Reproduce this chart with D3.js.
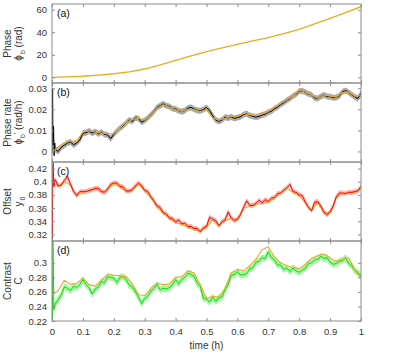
<!DOCTYPE html>
<html><head><meta charset="utf-8">
<script src="https://cdn.jsdelivr.net/npm/d3@7"></script>
<style>body{margin:0;background:#fff} text{font-family:"Liberation Sans",Arial,sans-serif}</style>
</head><body><svg id="chart" width="399" height="361"></svg>
<script>
// ---------- data ----------
const phaseTime = [0,0.05,0.1,0.15,0.2,0.25,0.3,0.35,0.4,0.45,0.5,0.55,0.6,0.65,0.7,0.75,0.8,0.85,0.9,0.95,1.0];
const phaseValues = [0,0.4,1.0,2.0,3.2,4.8,7.4,11.0,15.0,19.0,22.9,26.2,29.3,32.3,35.2,38.8,42.6,47.3,52.3,57.4,62.6];

const fineTime = d3.range(101).map(i => i / 100);
const coarseTime = d3.range(51).map(i => i / 50);

const rateSpikeTime = [0.002,0.003,0.005,0.007,0.009];
const rateSpikeValues = [0.030,0.003,0.012,-0.002,0.004];
const rateMeasured = [0.000,0.001,0.000,0.002,0.003,0.004,0.0045,0.0032,0.004,0.0055,
  0.0086,0.0089,0.0097,0.0087,0.0094,0.0084,0.0091,0.0081,0.0079,0.0061,
  0.0081,0.0097,0.0111,0.0121,0.0136,0.0149,0.0143,0.0159,0.0156,0.0139,
  0.0147,0.0159,0.0173,0.0189,0.0209,0.0217,0.0226,0.0217,0.0213,0.0204,
  0.0201,0.0193,0.0189,0.0194,0.0206,0.0209,0.0201,0.0195,0.0193,0.0199,
  0.0209,0.0194,0.0169,0.0149,0.0143,0.0149,0.0163,0.0159,0.0164,0.0157,
  0.0161,0.0165,0.0175,0.0179,0.0171,0.0167,0.0163,0.0167,0.0173,0.0177,
  0.0186,0.0191,0.0203,0.0211,0.0223,0.0231,0.0243,0.0251,0.0263,0.0272,
  0.0286,0.0287,0.0281,0.0273,0.0269,0.0254,0.0251,0.0261,0.0268,0.0261,
  0.0260,0.0255,0.0256,0.0264,0.0283,0.0289,0.0281,0.0269,0.0259,0.0251,0.0276];
const rateModel = [0.0000,0.0020,0.0040,0.0050,0.0050,0.0092,0.0098,0.0092,0.0088,0.0083,
  0.0085,0.0112,0.0138,0.0152,0.0158,0.0150,0.0170,0.0205,0.0222,0.0210,
  0.0198,0.0190,0.0200,0.0198,0.0190,0.0196,0.0160,0.0148,0.0158,0.0165,
  0.0168,0.0180,0.0175,0.0170,0.0178,0.0190,0.0210,0.0228,0.0245,0.0262,
  0.0290,0.0282,0.0268,0.0252,0.0268,0.0262,0.0258,0.0280,0.0283,0.0262,0.0266];
const rateError = 0.0012;

const offsetSpikeTime = [0.001,0.003,0.006];
const offsetSpikeValues = [0.30,0.44,0.392];
const offsetMeasured = [0.400,0.403,0.394,0.395,0.402,0.408,0.396,0.385,0.379,0.385,
  0.385,0.385,0.387,0.388,0.390,0.390,0.385,0.384,0.389,0.396,
  0.398,0.398,0.393,0.392,0.386,0.386,0.388,0.394,0.398,0.394,
  0.387,0.385,0.377,0.371,0.363,0.361,0.353,0.351,0.345,0.344,
  0.339,0.342,0.336,0.337,0.332,0.332,0.329,0.329,0.324,0.330,
  0.332,0.346,0.343,0.341,0.333,0.339,0.342,0.354,0.345,0.341,
  0.343,0.350,0.361,0.371,0.364,0.364,0.367,0.372,0.368,0.373,
  0.370,0.375,0.376,0.382,0.383,0.387,0.391,0.396,0.385,0.384,
  0.380,0.379,0.369,0.361,0.356,0.369,0.370,0.363,0.354,0.350,
  0.354,0.363,0.377,0.383,0.383,0.382,0.384,0.384,0.385,0.386,0.393];
const offsetModel = [0.398,0.393,0.400,0.395,0.378,0.384,0.386,0.389,0.384,0.388,
  0.397,0.392,0.385,0.387,0.397,0.386,0.376,0.362,0.352,0.344,
  0.338,0.335,0.331,0.328,0.324,0.331,0.342,0.333,0.341,0.344,
  0.342,0.360,0.363,0.366,0.367,0.369,0.375,0.382,0.390,0.384,
  0.379,0.368,0.356,0.369,0.353,0.353,0.376,0.382,0.383,0.384,0.391];
const offsetError = 0.003;

const contrastSpikeTime = [0.001,0.003,0.006];
const contrastSpikeValues = [0.20,0.34,0.236];
const contrastMeasured = [0.230,0.243,0.249,0.256,0.267,0.265,0.262,0.268,0.266,0.270,
  0.277,0.270,0.266,0.257,0.264,0.267,0.274,0.273,0.281,0.280,
  0.279,0.273,0.280,0.281,0.277,0.269,0.267,0.260,0.253,0.244,
  0.251,0.254,0.261,0.265,0.270,0.263,0.265,0.264,0.266,0.270,
  0.277,0.271,0.277,0.280,0.286,0.284,0.281,0.272,0.267,0.251,
  0.250,0.246,0.253,0.247,0.252,0.253,0.263,0.270,0.283,0.284,
  0.288,0.283,0.284,0.285,0.292,0.293,0.301,0.302,0.307,0.306,
  0.315,0.307,0.304,0.297,0.297,0.291,0.293,0.288,0.293,0.289,
  0.287,0.290,0.293,0.299,0.300,0.304,0.305,0.309,0.306,0.307,
  0.301,0.298,0.299,0.302,0.303,0.307,0.299,0.296,0.289,0.287,0.282];
const contrastModel = [0.255,0.262,0.276,0.270,0.272,0.279,0.270,0.268,0.276,0.284,
  0.283,0.282,0.281,0.271,0.256,0.255,0.265,0.272,0.270,0.271,
  0.280,0.281,0.289,0.286,0.270,0.251,0.254,0.253,0.265,0.286,
  0.291,0.289,0.296,0.305,0.318,0.322,0.308,0.300,0.296,0.294,
  0.292,0.298,0.306,0.310,0.312,0.307,0.302,0.305,0.307,0.290,0.279];
const contrastError = 0.004;

const xTicks = [0,0.1,0.2,0.3,0.4,0.5,0.6,0.7,0.8,0.9,1];
const phaseTicks = [0,20,40,60];
const rateTicks = [0,0.01,0.02,0.03];
const offsetTicks = [0.32,0.34,0.36,0.38,0.4,0.42];
const contrastTicks = [0.22,0.24,0.26,0.28,0.3];

// ---------- layout ----------
const svg = d3.select("#chart");
const L = 52, R = 361;
const x = d3.scaleLinear([0, 1], [L, R]);
const orange = "#ebaa22", axisCol = "#8c8c8c", textCol = "#333";
const fmt = d => String(+d.toFixed(4));

const zip = (t, v) => t.map((ti, i) => [ti, v[i]]);
const withSpike = (t, v, st, sv) => [[t[0], v[0]], ...zip(st, sv), ...zip(t, v).slice(1)];

const panels = [
  {top: 4, bottom: 83, domain: [-5, 65], ticks: phaseTicks, label: "(a)",
   l1: "Phase", l2: [["ϕ"],["b","sub"],[" (rad)"]],
   layers: [{type: "line", data: zip(phaseTime, phaseValues), color: orange, w: 1.3}]},
  {top: 83, bottom: 162, domain: [-0.005, 0.0325], ticks: rateTicks, label: "(b)",
   l1: "Phase rate", l2: [["ϕ"],["b","sub"],["'","sup"],[" (rad/h)"]],
   layers: [
     {type: "band", data: zip(fineTime, rateMeasured), err: rateError, color: "#a9a9a9"},
     {type: "line", data: withSpike(fineTime, rateMeasured, rateSpikeTime, rateSpikeValues), color: "#000", w: 1},
     {type: "line", data: zip(coarseTime, rateModel), color: orange, w: 1.1}]},
  {top: 162, bottom: 241, domain: [0.31, 0.43], ticks: offsetTicks, label: "(c)",
   l1: "Offset", l2: [["y"],["0","sub"]],
   layers: [
     {type: "band", data: zip(fineTime, offsetMeasured), err: offsetError, color: "#ffb0b0"},
     {type: "line", data: zip(coarseTime, offsetModel), color: orange, w: 1.2},
     {type: "line", data: withSpike(fineTime, offsetMeasured, offsetSpikeTime, offsetSpikeValues), color: "#ff0000", w: 1}]},
  {top: 241, bottom: 321, domain: [0.22, 0.33], ticks: contrastTicks, label: "(d)",
   l1: "Contrast", l2: [["C"]],
   layers: [
     {type: "band", data: zip(fineTime, contrastMeasured), err: contrastError, color: "#a8f5a8"},
     {type: "line", data: withSpike(fineTime, contrastMeasured, contrastSpikeTime, contrastSpikeValues), color: "#00e000", w: 1},
     {type: "line", data: zip(coarseTime, contrastModel), color: orange, w: 1.1}]}
];

panels.forEach((p, pi) => {
  const y = d3.scaleLinear(p.domain, [p.bottom, p.top]);
  const cid = "clip" + pi;
  svg.append("clipPath").attr("id", cid).append("rect")
    .attr("x", L).attr("y", p.top).attr("width", R - L).attr("height", p.bottom - p.top);
  const g = svg.append("g").attr("clip-path", `url(#${cid})`);
  p.layers.forEach(layer => {
    if (layer.type === "band") {
      g.append("path").datum(layer.data)
        .attr("d", d3.area().x(d => x(d[0])).y0(d => y(d[1] - layer.err)).y1(d => y(d[1] + layer.err)))
        .attr("fill", layer.color).attr("stroke", layer.color).attr("stroke-width", 1);
    } else {
      g.append("path").datum(layer.data)
        .attr("d", d3.line().x(d => x(d[0])).y(d => y(d[1])))
        .attr("fill", "none").attr("stroke", layer.color).attr("stroke-width", layer.w)
        .attr("stroke-linejoin", "round");
    }
  });

  const isLast = pi === panels.length - 1;
  const styleAxis = sel => {
    sel.select(".domain").remove();
    sel.selectAll(".tick line").attr("stroke", axisCol);
    sel.selectAll(".tick text").attr("fill", textCol).style("font-size", "9.5px")
      .style("font-family", '"Liberation Sans",Arial,sans-serif');
  };
  svg.append("g").attr("transform", `translate(0,${p.bottom})`)
    .call(d3.axisBottom(x).tickValues(xTicks).tickSize(-3).tickPadding(7)
      .tickFormat(isLast ? fmt : () => ""))
    .call(styleAxis);
  svg.append("g").attr("transform", `translate(0,${p.top})`)
    .call(d3.axisTop(x).tickValues(xTicks).tickSize(-3).tickFormat(() => ""))
    .call(styleAxis);
  svg.append("g").attr("transform", `translate(${L},0)`)
    .call(d3.axisLeft(y).tickValues(p.ticks).tickSize(-3).tickPadding(5).tickFormat(fmt))
    .call(styleAxis);
  svg.append("g").attr("transform", `translate(${R},0)`)
    .call(d3.axisRight(y).tickValues(p.ticks).tickSize(-3).tickFormat(() => ""))
    .call(styleAxis);

  svg.append("rect").attr("x", L).attr("y", p.top).attr("width", R - L).attr("height", p.bottom - p.top)
    .attr("fill", "none").attr("stroke", axisCol).attr("stroke-width", 1);

  svg.append("text").attr("x", L + 5).attr("y", p.top + 13).attr("fill", "#111")
    .style("font-size", "10.5px").text(p.label);

  const mid = (p.top + p.bottom) / 2;
  svg.append("text").attr("transform", `translate(11,${mid}) rotate(-90)`)
    .attr("text-anchor", "middle").attr("fill", textCol).style("font-size", "10px").text(p.l1);
  const t2 = svg.append("text").attr("transform", `translate(22,${mid}) rotate(-90)`)
    .attr("text-anchor", "middle").attr("fill", textCol).style("font-size", "10px");
  let shift = 0;
  p.l2.forEach(([s, kind]) => {
    const target = kind === "sub" ? 3 : kind === "sup" ? -3 : 0;
    const ts = t2.append("tspan").attr("dy", target - shift)
      .style("font-size", kind ? "7px" : "10px").text(s);
    if (kind === "sub") ts.attr("dx", 1);
    shift = target;
  });
});

svg.append("text").attr("x", (L + R) / 2).attr("y", 349).attr("text-anchor", "middle")
  .attr("fill", textCol).style("font-size", "10px").text("time (h)");
</script></body></html>
